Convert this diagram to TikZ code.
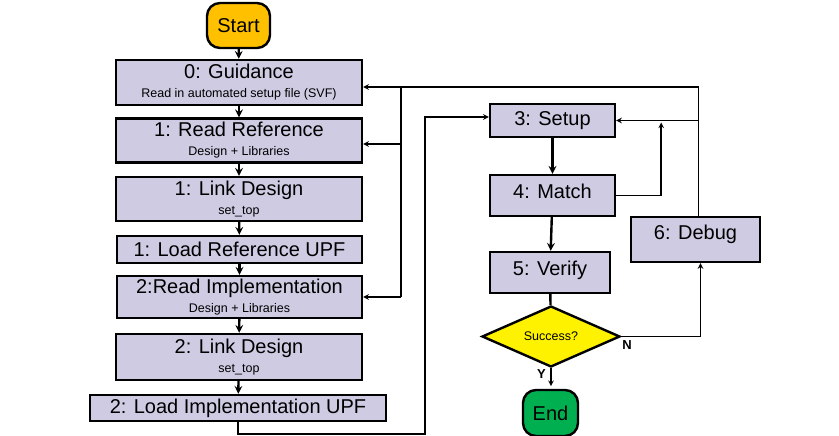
\documentclass[tikz,border=0pt]{standalone}
\usepackage{fontspec}
\setmainfont{Liberation Sans}
\usetikzlibrary{shapes.geometric}
\definecolor{stepfill}{RGB}{207,203,227}
\definecolor{startfill}{RGB}{255,192,0}
\definecolor{endfill}{RGB}{0,176,80}
\newcommand{\subtxt}[1]{{\fontsize{12.5}{13}\selectfont #1}}
\begin{document}
\begin{tikzpicture}[x=1pt, y=-1pt,
	stepbox/.style={draw, line width=2.4pt, fill=stepfill, align=center, inner sep=0pt,
		font=\fontsize{20}{20}\selectfont},
	term/.style={draw, line width=2.4pt, rounded corners=13pt, inner sep=0pt,
		font=\fontsize{20}{20}\selectfont},
	flow/.style={line width=2.4pt, -stealth},
	arr/.style={line width=1.5pt, -stealth},
	wire/.style={line width=1.5pt},
	yn/.style={font=\fontsize{13}{14}\selectfont\bfseries, inner sep=1pt}]
	\useasboundingbox (0,0) rectangle (839,436);

	% left column
	\node[term, fill=startfill, minimum width=63pt, minimum height=45pt] (start) at (238.5,25.5) {Start};
	\node[stepbox, minimum width=246pt, minimum height=45pt] (guide) at (239,82.5)
		{0: Guidance\\[-1pt]\subtxt{Read in automated setup file (SVF)}};
	\node[stepbox, minimum width=246pt, minimum height=44pt] (readref) at (239,140.5)
		{1: Read Reference\\[-1pt]\subtxt{Design + Libraries}};
	\node[stepbox, minimum width=246pt, minimum height=44pt] (linkref) at (239,199)
		{1: Link Design\\[-1pt]\subtxt{set\_top}};
	\node[stepbox, minimum width=245pt, minimum height=27pt] (upfref) at (239.5,249.5) {1: Load Reference UPF};
	\node[stepbox, minimum width=245pt, minimum height=42pt] (readimp) at (239.5,297)
		{2:Read Implementation\\[-1pt]\subtxt{Design + Libraries}};
	\node[stepbox, minimum width=246pt, minimum height=46pt] (linkimp) at (239,357)
		{2: Link Design\\[-1pt]\subtxt{set\_top}};
	\node[stepbox, minimum width=296pt, minimum height=26pt] (upfimp) at (238,408) {2: Load Implementation UPF};

	% right column
	\node[stepbox, minimum width=125pt, minimum height=33pt] (setup) at (552.5,120.5) {3: Setup};
	\node[stepbox, minimum width=125pt, minimum height=41pt, text depth=9pt] (match) at (552.5,195.5) {4: Match};
	\node[stepbox, minimum width=120pt, minimum height=41pt, text depth=9pt] (verify) at (550,272.5) {5: Verify};
	\node[draw, diamond, line width=2.4pt, fill=yellow, aspect=2.26, inner sep=0pt,
		minimum width=138pt, minimum height=61pt, font=\fontsize{12.5}{13}\selectfont] (success) at (551,336.5) {Success?};
	\node[term, fill=endfill, minimum width=55pt, minimum height=46pt] (finish) at (550.5,413) {End};
	\node[stepbox, minimum width=129pt, minimum height=45pt, text depth=14pt] (debug) at (695.5,239.5) {6: Debug};

	\draw[flow] (start) -- (guide);
	\draw[flow] (guide) -- (readref);
	\draw[flow] (readref) -- (linkref);
	\draw[flow] (linkref) -- (upfref);
	\draw[flow] (upfref) -- (readimp);
	\draw[flow] (readimp) -- (linkimp);
	\draw[flow] (linkimp) -- (upfimp);

	\draw[flow] (setup) -- (match);
	\draw[flow] (match) -- (verify);
	\draw[wire, line width=2.4pt] (verify) -- (success);
	\draw[arr] (success.south) -- ([yshift=-18pt]success.south);
	\node[yn, anchor=north east] (yes) at ([xshift=-4pt]success.south) {Y};
	\node[yn, anchor=north west] (no) at ([yshift=-3pt]success.east) {N};

	% debug loops
	\coordinate (dbgup) at ([xshift=3pt]debug.north);
	\draw[arr] (dbgup) |- ([yshift=-4.5pt]guide.east);
	\draw[arr] (dbgup |- setup.east) -- (setup.east);
	\coordinate (bus) at ([xshift=38pt,yshift=-4.5pt]guide.east);
	\draw[wire] (bus) -- (bus |- readimp.east);
	\draw[arr] (bus |- 0,144) -- (readref.east |- 0,144);
	\draw[arr] (bus |- readimp.east) -- (readimp.east);
	\draw[arr] (match.east) -| ([xshift=45pt,yshift=-2pt]setup.east);
	\draw[arr] (success.east) -| ([xshift=5pt]debug.south);
	\draw[arr] (upfimp.south) |- ++(187,12) |- ([yshift=3.5pt]setup.west);
\end{tikzpicture}
\end{document}
